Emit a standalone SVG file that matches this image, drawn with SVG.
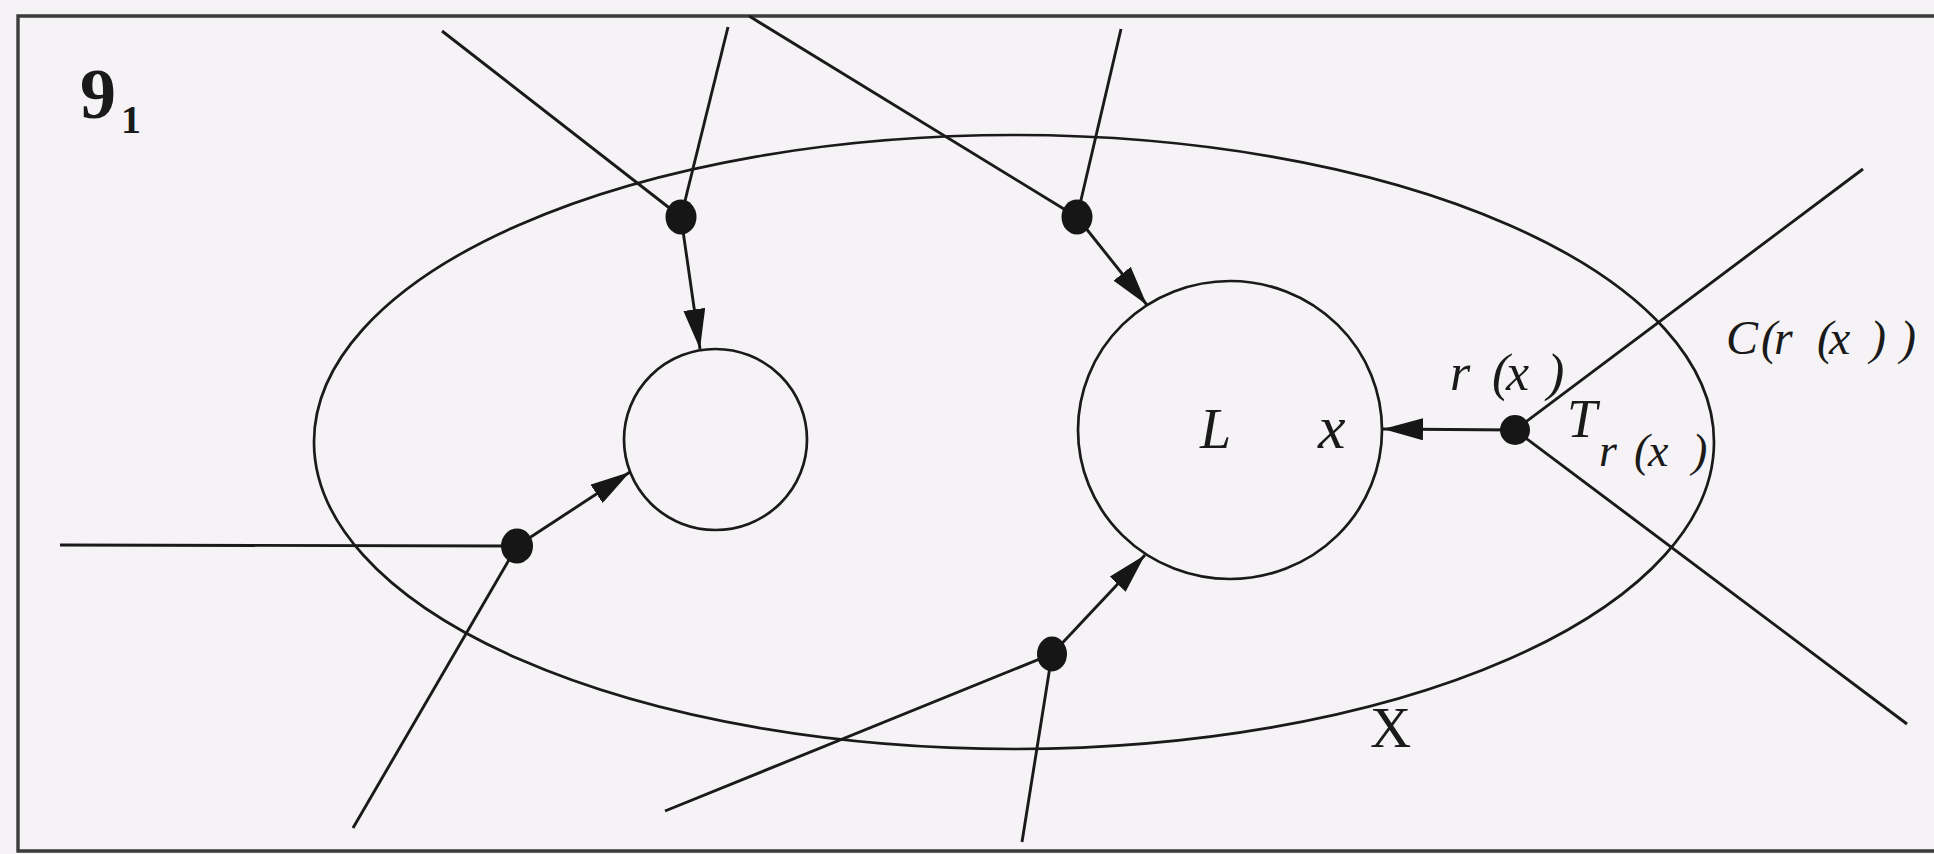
<svg xmlns="http://www.w3.org/2000/svg" width="1934" height="854" viewBox="0 0 1934 854">
<defs>
<style>
.ln{stroke:#1a1a1a;stroke-width:2.9;fill:none}
.sh{stroke:#1a1a1a;stroke-width:2.7;fill:none}
.dot{fill:#161616}
.fr{stroke:#3c3c3c;stroke-width:3.4;fill:none}
.it{font-family:"Liberation Serif",serif;font-style:italic;fill:#1a1a1a}
.rm{font-family:"Liberation Serif",serif;fill:#1a1a1a}
</style>
<marker id="ah" markerWidth="40" markerHeight="22" refX="40" refY="11" orient="auto" markerUnits="userSpaceOnUse">
<path d="M0,0 L40,11 L0,22 Z" fill="#161616"/>
</marker>
</defs>
<rect x="0" y="0" width="1934" height="854" fill="#f5f3f5"/>
<g id="frame">
<path class="fr" d="M1934,16 L18,16 L18,851 L1934,851"/>
<text class="rm" x="80" y="118" font-size="72" font-weight="bold">9<tspan x="121" y="133" font-size="40">1</tspan></text>
</g>
<g id="setX">
<ellipse class="sh" cx="1014" cy="442" rx="700" ry="307"/>
<text class="rm" x="1370" y="747" font-size="57">X</text>
</g>
<g id="circleSmall">
<ellipse class="sh" cx="715.5" cy="439.5" rx="91.5" ry="90.5"/>
</g>
<g id="circleL">
<ellipse class="sh" cx="1230" cy="430" rx="152" ry="149"/>
<text class="it" x="1200" y="448" font-size="56">L</text>
<text class="it" x="1318" y="448" font-size="62">x</text>
</g>
<g id="connectors">
<line class="ln" x1="442" y1="31" x2="681" y2="217"/>
<line class="ln" x1="728" y1="27" x2="681" y2="217"/>
<line class="ln" x1="681" y1="217" x2="700" y2="349" marker-end="url(#ah)"/>
<line class="ln" x1="749" y1="16" x2="1077" y2="217"/>
<line class="ln" x1="1121" y1="29" x2="1077" y2="217"/>
<line class="ln" x1="1077" y1="217" x2="1147" y2="305" marker-end="url(#ah)"/>
<line class="ln" x1="60" y1="545" x2="517" y2="546"/>
<line class="ln" x1="353" y1="828" x2="517" y2="546"/>
<line class="ln" x1="517" y1="546" x2="630" y2="472" marker-end="url(#ah)"/>
<line class="ln" x1="665" y1="811" x2="1052" y2="654"/>
<line class="ln" x1="1022" y1="842" x2="1052" y2="654"/>
<line class="ln" x1="1052" y1="654" x2="1145" y2="555" marker-end="url(#ah)"/>
<line class="ln" x1="1515" y1="430" x2="1383" y2="429" marker-end="url(#ah)"/>
<line class="ln" x1="1863" y1="169" x2="1515" y2="430"/>
<line class="ln" x1="1515" y1="430" x2="1907" y2="724"/>
</g>
<g id="dotA"><ellipse class="dot" cx="681" cy="217" rx="15.5" ry="17.5"/></g>
<g id="dotB"><ellipse class="dot" cx="1077" cy="217" rx="15.5" ry="17.5"/></g>
<g id="dotC"><ellipse class="dot" cx="517" cy="546" rx="16" ry="17.5"/></g>
<g id="dotD"><ellipse class="dot" cx="1052" cy="654" rx="15" ry="17.5"/></g>
<g id="dotE">
<circle class="dot" cx="1515" cy="430" r="15"/>
<text class="it" font-size="52" y="390" x="1450 1472 1492 1506 1530 1547">r (x )</text>
<text class="it" font-size="54" x="1567" y="437">T</text>
<text class="it" font-size="46" y="466" x="1599 1617 1634 1648 1674 1692">r (x )</text>
</g>
<g id="labelC">
<text class="it" font-size="48" y="354" x="1726 1761 1774 1798 1817 1829 1856 1870 1888 1900">C(r (x ) )</text>
</g>
</svg>
